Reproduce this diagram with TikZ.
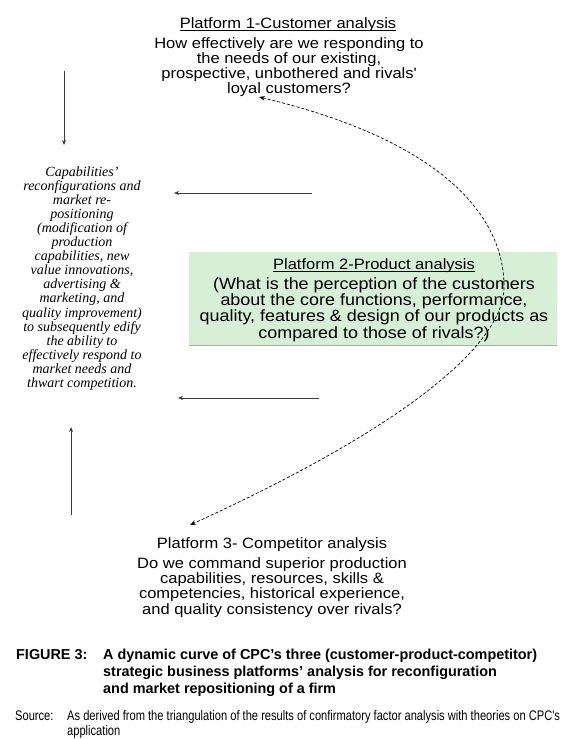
\documentclass[tikz,border=0pt]{standalone}
\usepackage{fontspec}
\setmainfont{Liberation Serif}
\setsansfont{Liberation Sans}
\newfontfamily\widesf[FakeStretch=1.1]{Liberation Sans}
\newfontfamily\narrowsf[FakeStretch=0.8]{Liberation Sans}
\usepackage{tikz}
\usetikzlibrary{positioning,arrows.meta}
\setlength{\lineskiplimit}{-30pt}
\definecolor{prodgreen}{RGB}{215,238,215}
\definecolor{boxedge}{RGB}{150,180,200}
\definecolor{flowgray}{RGB}{60,60,60}

\begin{document}
\begin{tikzpicture}[x=1pt, y=-1pt, >={Stealth[length=5pt,width=4pt]},
  txt/.style={inner sep=0pt, align=center, anchor=base},
  ptitle/.style={txt, font=\widesf\fontsize{15}{15}\selectfont},
  pbody/.style={txt, font=\widesf\fontsize{15}{15}\selectfont},
  flow/.style={->, draw=flowgray, line width=0.8pt},
  loop/.style={<->, dash pattern=on 3pt off 2pt, line width=0.7pt, >={Stealth[length=6pt,width=4.5pt]}},
  uline/.style={line width=0.7pt}]

  \fill[white] (0,0) rectangle (580,739);
  \useasboundingbox (0,0) rectangle (580,739);

  % platform 1 (multi-line nodes sit on their last baseline)
  \node [ptitle] (cust) at (288,28) {Platform 1-Customer analysis};
  \draw [uline] ([yshift=-2.5pt]cust.base west) -- ([yshift=-2.5pt]cust.base east);
  \node [pbody] (custq) at (289,93) {How effectively are we responding to\\ the needs of our existing,\\ prospective, unbothered and rivals\textquotesingle\\ loyal customers?};

  % platform 2
  \node [fill=prodgreen, minimum width=368pt, minimum height=93pt, inner sep=0pt] (prodbox) at (373,298.5) {};
  \draw [boxedge, line width=1pt] (prodbox.south west) -- (prodbox.south east);
  \node [ptitle] (prod) at (374,269) {Platform 2-Product analysis};
  \draw [uline] ([yshift=-2.5pt]prod.base west) -- ([yshift=-2.5pt]prod.base east);
  \node [txt, font=\widesf\fontsize{16.3}{16.3}\selectfont] (prodq) at (374,338) {(What is the perception of the customers\\ about the core functions, performance,\\ quality, features \& design of our products as\\ compared to those of rivals?)};

  % platform 3
  \node [ptitle] (comp) at (272,548) {Platform 3- Competitor analysis};
  \node [txt, font=\widesf\fontsize{15}{15.3}\selectfont] (compq) at (272,614) {Do we command superior production\\ capabilities, resources, skills \&\\ competencies, historical experience,\\ and quality consistency over rivals?};

  % reconfiguration
  \node [txt, font=\itshape\fontsize{14}{14.1}\selectfont] (reconf) at (82,387.5) {Capabilities'\\ reconfigurations and\\ market re-\\ positioning\\ (modification of\\ production\\ capabilities, new\\ value innovations,\\ advertising \&\\ marketing, and\\ quality improvement)\\ to subsequently edify\\ the ability to\\ effectively respond to\\ market needs and\\ thwart competition.};

  \coordinate (downA) at (64,71);
  \coordinate (downB) at (64,145);
  \coordinate (custin) at (312,193);
  \coordinate (custout) at (174,193);
  \coordinate (compin) at (319,398);
  \coordinate (compout) at (178,398);
  \coordinate (upA) at (71,515);
  \coordinate (upB) at (71,427);
  \draw [flow] (downA) -- (downB);
  \draw [flow] (custin) -- (custout);
  \draw [flow] (compin) -- (compout);
  \draw [flow] (upA) -- (upB);

  % dynamic curve
  \coordinate (loopA) at (259,97);
  \coordinate (apex) at (504,288);
  \coordinate (loopB) at (190,525);
  \draw [loop] (loopA) .. controls (440,140) and (505,215) .. (apex) .. controls (503,340) and (420,420) .. (loopB);

  % caption
  \node [anchor=base west, inner sep=0pt, font=\sffamily\bfseries\fontsize{14.4}{17}\selectfont] (figlbl) at (16,659) {FIGURE 3:};
  \node [anchor=base west, inner sep=0pt, align=left, font=\sffamily\bfseries\fontsize{14.4}{17}\selectfont] (figcap) at (103,693) {A dynamic curve of CPC's three (customer-product-competitor)\\ strategic business platforms' analysis for reconfiguration\\ and market repositioning of a firm};
  \node [anchor=base west, inner sep=0pt, font=\narrowsf\fontsize{13.9}{15}\selectfont] (srclbl) at (15,720) {Source:};
  \node [anchor=base west, inner sep=0pt, align=left, font=\narrowsf\fontsize{13.9}{15}\selectfont] (src) at (67,735) {As derived from the triangulation of the results of confirmatory factor analysis with theories on CPC's\\ application};
\end{tikzpicture}
\end{document}
